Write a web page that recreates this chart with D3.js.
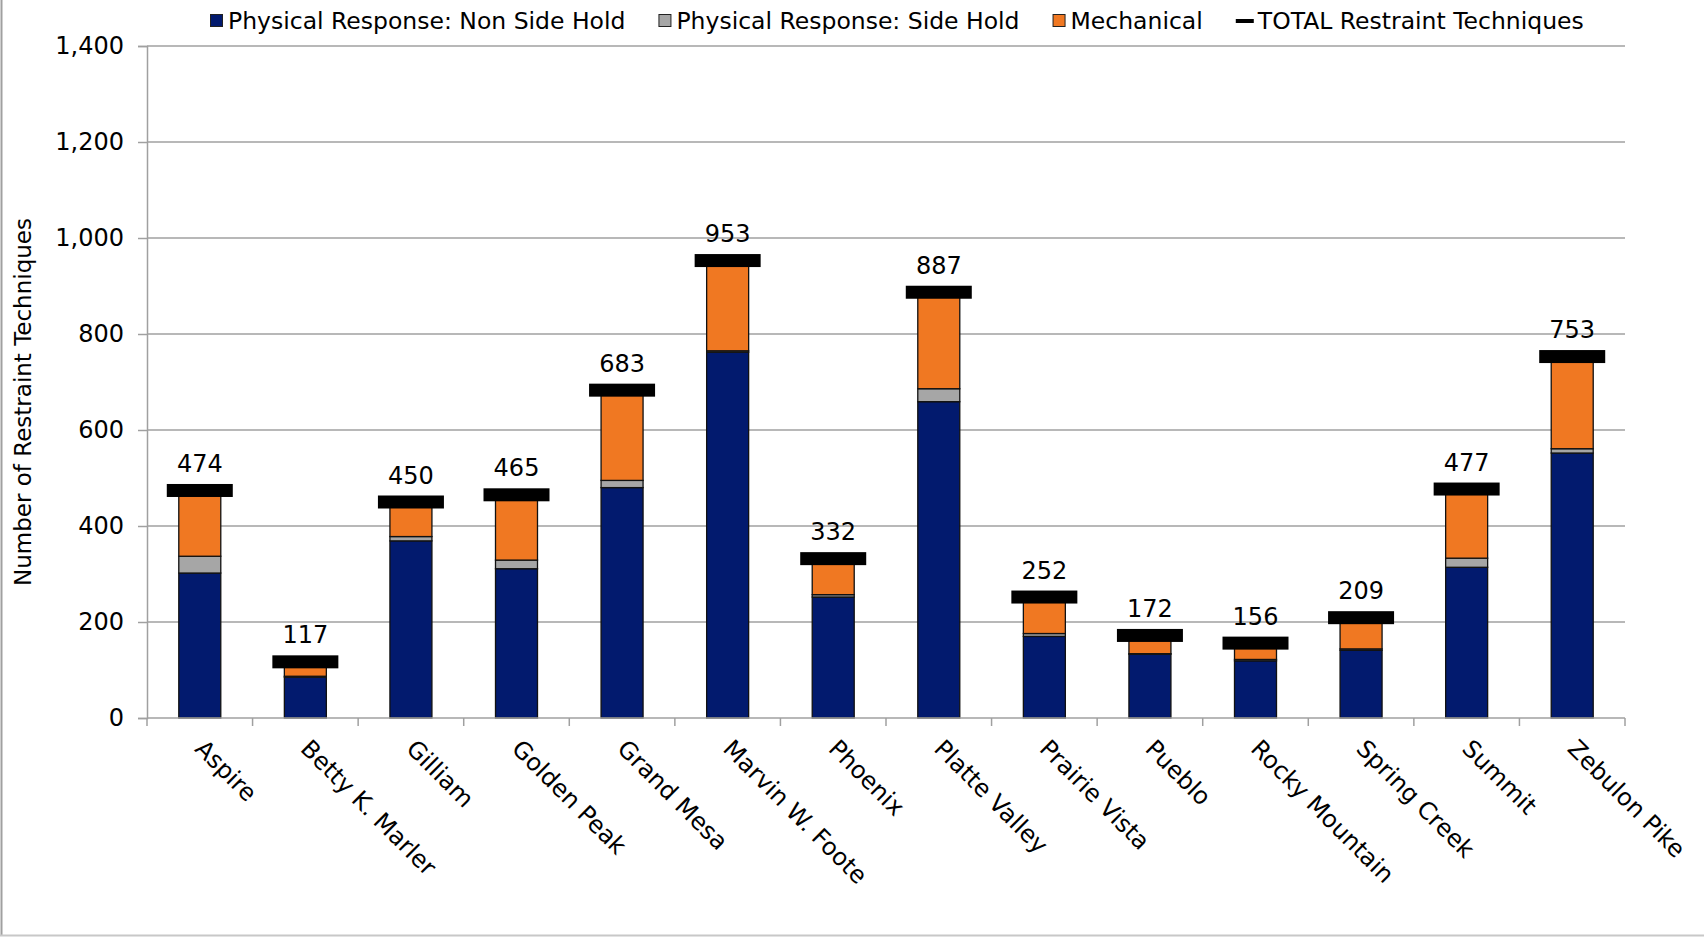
<!DOCTYPE html>
<html>
<head>
<meta charset="utf-8">
<script src="https://cdn.jsdelivr.net/npm/d3@7"></script>
<style>
  body { margin: 0; background: #fff; }
  svg { display: block; font-family: "DejaVu Sans", sans-serif; }
</style>
</head>
<body>
<div id="chart"></div>
<script>
const categories = ["Aspire", "Betty K. Marler", "Gilliam", "Golden Peak", "Grand Mesa", "Marvin W. Foote",
  "Phoenix", "Platte Valley", "Prairie Vista", "Pueblo", "Rocky Mountain", "Spring Creek", "Summit", "Zebulon Pike"]
const nonSideHold = [302, 85, 369, 311, 480, 762, 252, 659, 170, 133, 119, 141, 314, 552]
const sideHold = [35, 2, 9, 18, 15, 3, 5, 27, 6, 1, 3, 3, 19, 9]
const mechanical = [137, 30, 72, 136, 188, 188, 75, 201, 76, 38, 34, 65, 144, 192]
const totals = [474, 117, 450, 465, 683, 953, 332, 887, 252, 172, 156, 209, 477, 753]
const yTicks = [0, 200, 400, 600, 800, 1000, 1200, 1400]

const seriesNames = ["Physical Response: Non Side Hold", "Physical Response: Side Hold", "Mechanical"]
const seriesColors = ["#021a6e", "#a6a6a6", "#f07822"]

const width = 1704
const height = 937
const margin = { top: 46, right: 79, bottom: 219, left: 147 }

const svg = d3.select('#chart')
  .append('svg')
  .attr('width', width)
  .attr('height', height)

// Outer chart border (left and bottom visible in the original)
svg.append('line')
  .attr('x1', 1.5).attr('x2', 1.5).attr('y1', 0).attr('y2', height - 1.5)
  .attr('stroke', '#a0a0a0').attr('stroke-width', 2)
svg.append('line')
  .attr('x1', 0).attr('x2', width).attr('y1', height - 1.5).attr('y2', height - 1.5)
  .attr('stroke', '#c8c8c8').attr('stroke-width', 2)

const x = d3.scaleBand()
  .domain(categories)
  .range([margin.left, width - margin.right])
  .paddingInner(0)

const y = d3.scaleLinear()
  .domain([0, 1400])
  .range([height - margin.bottom, margin.top])

// Gridlines
svg.append('g')
  .selectAll('line')
  .data(yTicks.filter(d => d > 0))
  .join('line')
  .attr('x1', margin.left)
  .attr('x2', width - margin.right)
  .attr('y1', d => y(d))
  .attr('y2', d => y(d))
  .attr('stroke', '#a0a0a0')
  .attr('stroke-width', 1.5)

// Y axis
const yAxis = svg.append('g')
  .attr('transform', `translate(${margin.left},0)`)
  .call(d3.axisLeft(y).tickValues(yTicks).tickFormat(d3.format(',')).tickSize(9).tickPadding(14))
yAxis.select('.domain').attr('stroke', '#a0a0a0').attr('stroke-width', 1.5)
yAxis.selectAll('.tick line').attr('stroke', '#a0a0a0').attr('stroke-width', 1.5)
yAxis.selectAll('.tick text')
  .attr('font-size', 24)
  .attr('font-family', '"DejaVu Sans", sans-serif')
  .attr('fill', '#000')

// Stacked bars
const stackData = categories.map((c, i) => ({
  category: c,
  nonSide: nonSideHold[i],
  side: sideHold[i],
  mech: mechanical[i]
}))
const stack = d3.stack().keys(['nonSide', 'side', 'mech'])
const layers = stack(stackData)

const barWidth = 42
svg.append('g')
  .selectAll('g')
  .data(layers)
  .join('g')
  .attr('fill', (d, i) => seriesColors[i])
  .selectAll('rect')
  .data(d => d)
  .join('rect')
  .attr('x', d => x(d.data.category) + x.bandwidth() / 2 - barWidth / 2)
  .attr('y', d => y(d[1]))
  .attr('width', barWidth)
  .attr('height', d => y(d[0]) - y(d[1]))
  .attr('stroke', '#111')
  .attr('stroke-width', 1.3)

// X axis
const xAxisY = height - margin.bottom
svg.append('line')
  .attr('x1', margin.left).attr('x2', width - margin.right)
  .attr('y1', xAxisY).attr('y2', xAxisY)
  .attr('stroke', '#a0a0a0').attr('stroke-width', 1.5)
const boundaries = categories.map(c => x(c)).concat([width - margin.right])
svg.append('g')
  .selectAll('line')
  .data(boundaries)
  .join('line')
  .attr('x1', d => d).attr('x2', d => d)
  .attr('y1', xAxisY).attr('y2', xAxisY + 8)
  .attr('stroke', '#a0a0a0').attr('stroke-width', 1.5)

svg.append('g')
  .selectAll('text')
  .data(categories)
  .join('text')
  .attr('transform', d => `translate(${x(d) + x.bandwidth() / 2 - 6}, ${xAxisY + 32}) rotate(45)`)
  .attr('font-size', 24)
  .attr('fill', '#000')
  .text(d => d)

// TOTAL markers and labels
const markerW = 66
const markerH = 13
svg.append('g')
  .selectAll('rect')
  .data(totals)
  .join('rect')
  .attr('x', (d, i) => x(categories[i]) + x.bandwidth() / 2 - markerW / 2)
  .attr('y', d => y(d) - markerH / 2)
  .attr('width', markerW)
  .attr('height', markerH)
  .attr('fill', '#000')

svg.append('g')
  .selectAll('text')
  .data(totals)
  .join('text')
  .attr('x', (d, i) => x(categories[i]) + x.bandwidth() / 2)
  .attr('y', d => y(d) - markerH / 2 - 12)
  .attr('text-anchor', 'middle')
  .attr('font-size', 24)
  .attr('fill', '#000')
  .text(d => d)

// Y axis title
svg.append('text')
  .attr('transform', `translate(23, ${(margin.top + xAxisY) / 2 + 20}) rotate(-90)`)
  .attr('text-anchor', 'middle')
  .attr('dominant-baseline', 'central')
  .attr('font-size', 23)
  .attr('fill', '#000')
  .text('Number of Restraint Techniques')

// Legend
const legendItems = seriesNames.map((name, i) => ({ name, color: seriesColors[i], type: 'box' }))
  .concat([{ name: 'TOTAL Restraint Techniques', color: '#000', type: 'dash' }])

const legend = svg.append('g')
let lx = 210
const ly = 21
legendItems.forEach(item => {
  const g = legend.append('g')
  const textOffset = item.type === 'box' ? 18 : 22
  if (item.type === 'box') {
    g.append('rect')
      .attr('x', lx + 0.5).attr('y', ly - 6.5)
      .attr('width', 12).attr('height', 12)
      .attr('fill', item.color)
      .attr('stroke', '#222').attr('stroke-width', 1)
  } else {
    g.append('rect')
      .attr('x', lx).attr('y', ly - 2)
      .attr('width', 18).attr('height', 4)
      .attr('fill', '#000')
  }
  const t = g.append('text')
    .attr('x', lx + textOffset)
    .attr('y', ly)
    .attr('dominant-baseline', 'central')
    .attr('font-size', 23.5)
    .attr('fill', '#000')
    .text(item.name)
  lx += textOffset + t.node().getComputedTextLength() + 33
})
</script>
</body>
</html>
